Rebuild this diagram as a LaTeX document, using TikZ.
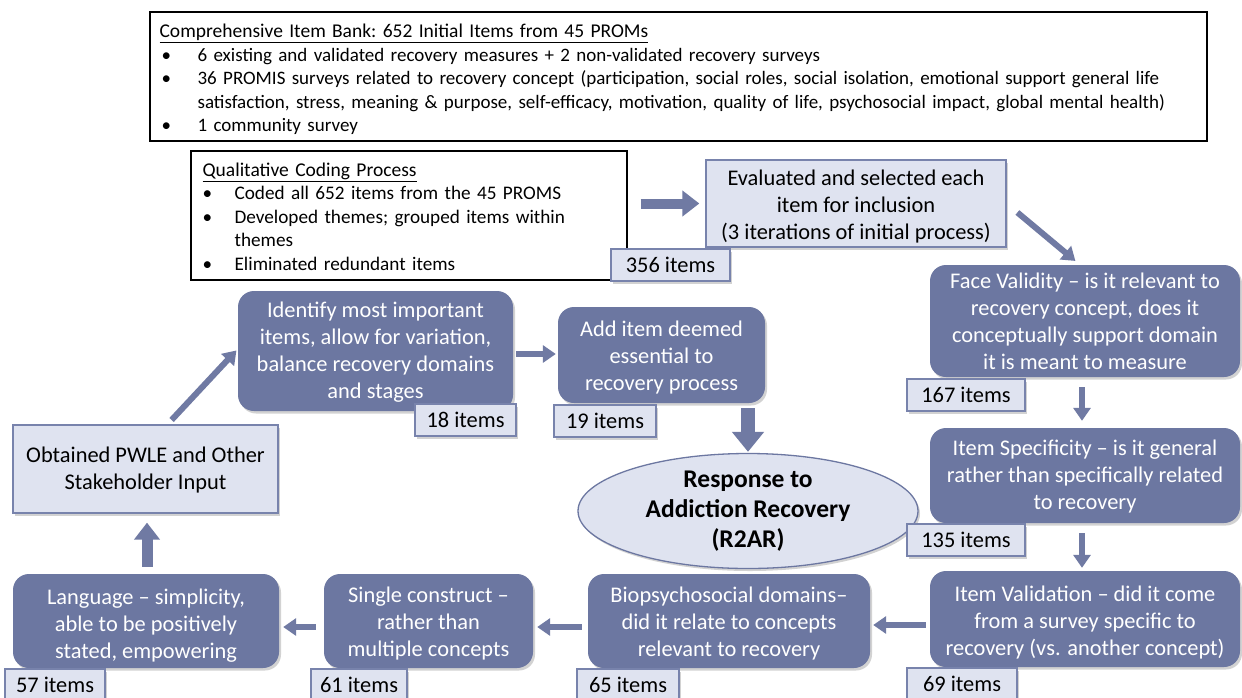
\documentclass[tikz,border=0pt]{standalone}
\usepackage{fontspec}
\setmainfont{Carlito}
\usetikzlibrary{arrows.meta,shapes.geometric,shadows}
\definecolor{darkfill}{RGB}{108,119,161}
\definecolor{lightfill}{RGB}{223,227,240}
\definecolor{lightline}{RGB}{120,131,172}
\definecolor{arrowcol}{RGB}{112,122,163}
\tikzset{
  shad/.style={drop shadow={opacity=0.35,shadow xshift=2pt,shadow yshift=-2.5pt}},
  darkbox/.style={shad,rounded corners=16pt,fill=darkfill,inner sep=0pt},
  lightbox/.style={shad,fill=lightfill,draw=lightline,line width=1.3pt,inner sep=0pt},
  dtext/.style={text=white,align=center,inner sep=0pt,font=\fontsize{22.4}{27}\selectfont},
  ltext/.style={text=black,align=center,inner sep=0pt,font=\fontsize{22.4}{27}\selectfont},
  itembox/.style={lightbox,align=center,font=\fontsize{22.4}{27}\selectfont},
  frame/.style={draw=black,line width=1.2pt,fill=white,inner sep=0pt},
  ftext/.style={align=left,inner sep=0pt,font=\fontsize{19}{23.4}\selectfont\frenchspacing},
  arr/.style={draw=arrowcol,line width=6pt,-{Triangle[width=17pt,length=13pt]}},
  bigarr/.style={draw=arrowcol,line width=10pt,-{Triangle[width=25pt,length=17pt]}},
  hugearr/.style={draw=arrowcol,line width=14pt,-{Triangle[width=31pt,length=20pt]}},
}
\newcommand{\bul}{\hspace*{2pt}\makebox[36pt][l]{•}}
\newcommand{\bulq}{\hspace*{0pt}\makebox[32pt][l]{•}}
\newcommand{\ttl}[1]{{\fontsize{19.5}{23.4}\selectfont\underline{#1}}}
\begin{document}
\begin{tikzpicture}[x=1pt,y=-1pt]
\useasboundingbox (0,0) rectangle (1242,697);
\fill[white] (0,0) rectangle (1242,697);

% top box
\node[frame,minimum width=1057,minimum height=129] (bank) at (678.5,76.5) {};
\node[ftext,text width=1037,anchor=west] (bankt) at ([xshift=10pt,yshift=-3pt]bank.west)
{\ttl{Comprehensive Item Bank: 652 Initial Items from 45 PROMs}\\
\bul 6 existing and validated recovery measures + 2 non-validated recovery surveys\\
\bul 36 PROMIS surveys related to recovery concept (participation, social roles, social isolation, emotional support general life\\
\hspace*{38pt}satisfaction, stress, meaning \& purpose, self-efficacy, motivation, quality of life, psychosocial impact, global mental health)\\
\bul 1 community survey};

% qualitative box
\node[frame,minimum width=436,minimum height=129] (qual) at (409,215.5) {};
\node[ftext,text width=412,anchor=west,font=\fontsize{19.2}{23.5}\selectfont\frenchspacing] (qualt) at ([xshift=12pt,yshift=-1pt]qual.west)
{\ttl{Qualitative Coding Process}\\
\bulq Coded all 652 items from the 45 PROMS\\
\bulq Developed themes; grouped items within\\
\hspace*{32pt}themes\\
\bulq Eliminated redundant items};

\node[lightbox,minimum width=300,minimum height=87] (eval) at (856,203.5) {};
\node[ltext] (evalt) at ([yshift=-3pt]eval.center)
{Evaluated and selected each\\item for inclusion\\(3 iterations of initial process)};

\node[darkbox,minimum width=310,minimum height=112] (face) at (1085,321) {};
\node[dtext] (facet) at ([yshift=-0.5pt]face.center)
{Face Validity -- is it relevant to\\recovery concept, does it\\conceptually support domain\\it is meant to measure};
\node[darkbox,minimum width=310,minimum height=95] (spec) at (1085,475.5) {};
\node[dtext] (spect) at ([yshift=-1.5pt]spec.center)
{Item Specificity -- is it general\\rather than specifically related\\to recovery};
\node[darkbox,minimum width=310,minimum height=96] (valid) at (1085,619) {};
\node[dtext] (validt) at ([yshift=-3.5pt]valid.center)
{Item Validation -- did it come\\from a survey specific to\\recovery (vs. another concept)};
\node[darkbox,minimum width=282,minimum height=94] (bio) at (729,621) {};
\node[dtext] (biot) at ([yshift=-2.5pt]bio.center)
{Biopsychosocial domains--\\did it relate to concepts\\relevant to recovery};
\node[darkbox,minimum width=209,minimum height=94] (single) at (428.5,621) {};
\node[dtext] (singlet) at ([yshift=-2.5pt]single.center)
{Single construct --\\rather than\\multiple concepts};
\node[darkbox,minimum width=266,minimum height=94] (lang) at (146,621) {};
\node[dtext] (langt) at ([yshift=-5pt]lang.center)
{Language -- simplicity,\\able to be positively\\stated, empowering};
\node[lightbox,minimum width=265,minimum height=88] (pwle) at (145.5,469) {};
\node[ltext] (pwlet) at ([yshift=-1.5pt]pwle.center)
{Obtained PWLE and Other\\Stakeholder Input};
\node[darkbox,minimum width=275,minimum height=120] (ident) at (375.5,351) {};
\node[dtext] (identt) at ([yshift=-1.5pt]ident.center)
{Identify most important\\items, allow for variation,\\balance recovery domains\\and stages};
\node[darkbox,minimum width=207,minimum height=96] (add) at (661.5,355) {};
\node[dtext] (addt) at ([yshift=-2.5pt]add.center)
{Add item deemed\\essential to\\recovery process};
\node[ellipse,shad,fill=lightfill,draw=darkfill,line width=1.3pt,minimum width=340,minimum height=115,
  align=center,inner sep=0pt,font=\fontsize{25.5}{30}\selectfont\bfseries] (ell) at (748,511)
{Response to\\Addiction Recovery\\(R2AR)};

% item labels
\node[itembox,minimum width=119,minimum height=32] (i356) at (670.5,265) {356 items};
\node[itembox,minimum width=118,minimum height=32] (i167) at (966,395) {167 items};
\node[itembox,minimum width=118,minimum height=32] (i135) at (966,540) {135 items};
\node[itembox,minimum width=110,minimum height=32] (i69) at (962,684) {69 items};
\node[itembox,minimum width=102,minimum height=32] (i65) at (628,685) {65 items};
\node[itembox,minimum width=96,minimum height=32] (i61) at (359,685) {61 items};
\node[itembox,minimum width=100,minimum height=32] (i57) at (55,685) {57 items};
\node[itembox,minimum width=101,minimum height=32] (i18) at (465.5,420) {18 items};
\node[itembox,minimum width=102,minimum height=32] (i19) at (605,421) {19 items};

% arrows
\draw[bigarr,shorten <=13pt,shorten >=6pt] (qual.east |- eval.west) -- (eval.west);
\draw[arr,shorten <=14pt,shorten >=6pt] (eval.east) -- ([xshift=-5pt]face.north);
\draw[arr,shorten <=10pt,shorten >=7pt] ([xshift=-3pt]face.south) -- ([xshift=-3pt]spec.north);
\draw[arr,shorten <=10pt,shorten >=3pt] ([xshift=-3pt]spec.south) -- ([xshift=-3pt]valid.north);
\draw[arr,shorten <=4pt,shorten >=3pt] ([yshift=-6pt]valid.west) -- ([yshift=-6pt]valid.west -| bio.east);
\draw[arr,shorten <=6pt,shorten >=4pt] ([yshift=-6pt]bio.west) -- ([yshift=-6pt]bio.west -| single.east);
\draw[arr,shorten <=8pt,shorten >=4pt] ([yshift=-6pt]single.west) -- ([yshift=-6pt]single.west -| lang.east);
\draw[bigarr,line width=11pt,shorten <=7pt,shorten >=9pt] ([xshift=1pt]lang.north) -- ([xshift=1.5pt]pwle.south);
\draw[arr,shorten <=6pt,shorten >=2pt] ([xshift=22pt]pwle.north) -- ([yshift=2pt]ident.west);
\draw[arr,shorten <=3pt,shorten >=2pt] ([yshift=-3pt]ident.east) -- ([yshift=-3pt]ident.east -| add.west);
\draw[hugearr,shorten <=5pt,shorten >=1pt] (ell.north |- add.south) -- (ell.north);
\end{tikzpicture}
\end{document}
